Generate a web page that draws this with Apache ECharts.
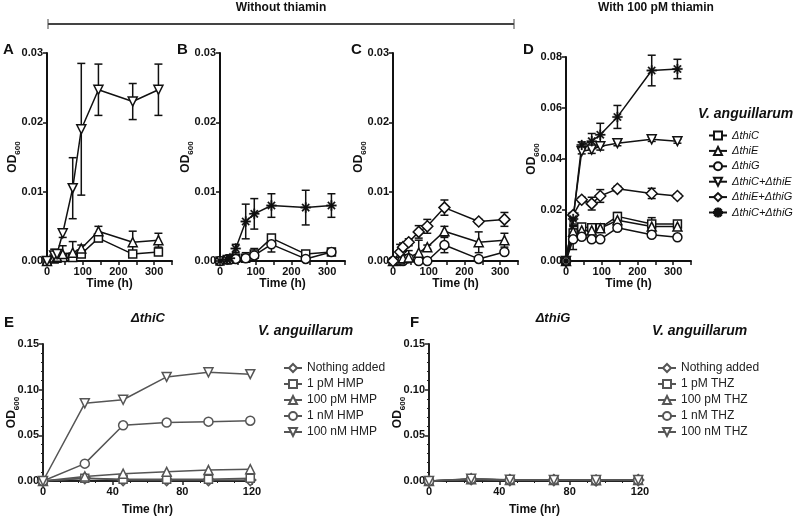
<!DOCTYPE html>
<html><head><meta charset="utf-8">
<script src="https://cdn.jsdelivr.net/npm/echarts@6/dist/echarts.min.js"></script>
<style>html,body{margin:0;padding:0;background:#fff}#c{width:800px;height:517px}</style>
</head><body><div id="c"></div>
<script>
// ---------- DATA ----------
const TOP_T = [0, 20, 28, 44, 72, 96, 144, 240, 312];
const D_T = [0, 20, 44, 72, 96, 144, 240, 312];
const BOT_T = [0, 24, 46, 71, 95, 119];

// Panel A
const A_thiC = [0, 0.0003, 0.0004, 0.0005, 0.0005, 0.0010, 0.0033, 0.0010, 0.0013];
const A_thiC_err = [0, 0.0003, 0.0003, 0.0004, 0.0006, 0.0004, 0.0005, 0.0003, 0.0003];
const A_thiE = [0, 0.0005, 0.0006, 0.0010, 0.0012, 0.0018, 0.0043, 0.0027, 0.0030];
const A_thiE_err = [0, 0.0012, 0.0008, 0.0012, 0.0016, 0.0005, 0.0007, 0.0016, 0.0010];
const A_CE = [0, 0.0008, 0.0010, 0.0040, 0.0105, 0.0190, 0.0247, 0.0230, 0.0247];
const A_CE_err = [0, 0.0005, 0.0005, 0.0006, 0.0044, 0.0095, 0.0037, 0.0026, 0.0037];
// Panel B
const B_thiC = [0, 0.0002, 0.0003, 0.0004, 0.0004, 0.0010, 0.0033, 0.0010, 0.0013];
const B_thiC_err = [0, 0, 0, 0, 0.0003, 0.0003, 0.0004, 0.0002, 0.0002];
const B_thiG = [0, 0.0002, 0.0002, 0.0003, 0.0004, 0.0008, 0.0024, 0.0003, 0.0013];
const B_thiG_err = [0, 0, 0, 0, 0.0008, 0.0010, 0.0011, 0.0002, 0.0002];
const B_CG = [0, 0.0002, 0.0004, 0.0018, 0.0057, 0.0068, 0.0080, 0.0077, 0.0080];
const B_CG_err = [0, 0.0002, 0.0003, 0.0006, 0.0025, 0.0022, 0.0017, 0.0025, 0.0017];
// Panel C
const C_thiE = [0, 0.0002, 0.0004, 0.0005, 0.0012, 0.0020, 0.0043, 0.0027, 0.0030];
const C_thiE_err = [0, 0.0003, 0.0005, 0.0010, 0.0018, 0.0003, 0.0007, 0.0015, 0.0010];
const C_thiG = [0, 0, 0, 0.0004, 0, 0, 0.0023, 0.0003, 0.0013];
const C_thiG_err = [0, 0, 0, 0, 0, 0, 0.0011, 0.0002, 0.0003];
const C_EG = [0, 0.0013, 0.0020, 0.0027, 0.0042, 0.0050, 0.0077, 0.0057, 0.0060];
const C_EG_err = [0, 0.0011, 0.0006, 0.0005, 0.0009, 0.0010, 0.0011, 0.0003, 0.0010];
// Panel D (with 100 pM thiamin)
const D_thiC = [0, 0.0110, 0.0133, 0.0130, 0.0130, 0.0175, 0.0145, 0.0145];
const D_thiC_err = [0, 0.0030, 0.0012, 0.0010, 0.0010, 0.0015, 0.0025, 0.0010];
const D_thiE = [0, 0.0115, 0.0120, 0.0120, 0.0128, 0.0160, 0.0135, 0.0135];
const D_thiE_err = [0, 0.0020, 0.0010, 0.0010, 0.0010, 0.0010, 0.0010, 0.0010];
const D_thiG = [0, 0.0085, 0.0095, 0.0085, 0.0085, 0.0130, 0.0103, 0.0093];
const D_thiG_err = [0, 0.0040, 0.0010, 0.0010, 0.0006, 0.0010, 0.0010, 0.0005];
const D_CE = [0, 0.0170, 0.0430, 0.0437, 0.0450, 0.0462, 0.0477, 0.0470];
const D_CE_err = [0, 0.0010, 0.0010, 0.0015, 0.0015, 0.0010, 0.0008, 0.0008];
const D_EG = [0, 0.0180, 0.0240, 0.0225, 0.0255, 0.0283, 0.0265, 0.0255];
const D_EG_err = [0, 0.0010, 0.0010, 0.0025, 0.0025, 0.0010, 0.0020, 0.0008];
const D_CG = [0, 0.0165, 0.0455, 0.0470, 0.0495, 0.0565, 0.0747, 0.0753];
const D_CG_err = [0, 0.0020, 0.0012, 0.0030, 0.0045, 0.0045, 0.0060, 0.0038];
// Panel E (ΔthiC + HMP)
const E_none = [0, 0.0030, 0.0010, 0.0010, 0.0010, 0.0010];
const E_1pM = [0, 0.0030, 0.0020, 0.0020, 0.0020, 0.0030];
const E_100pM = [0, 0.0050, 0.0080, 0.0100, 0.0120, 0.0130];
const E_1nM = [0, 0.0190, 0.0610, 0.0640, 0.0650, 0.0660];
const E_100nM = [0, 0.0850, 0.0890, 0.1140, 0.1190, 0.1170];
// Panel F (ΔthiG + THZ)
const F_none = [0, 0.0020, 0.0010, 0.0010, 0.0005, 0.0010];
const F_1pM = [0, 0.0020, 0.0010, 0.0010, 0.0010, 0.0010];
const F_100pM = [0, 0.0020, 0.0012, 0.0010, 0.0008, 0.0010];
const F_1nM = [0, 0.0022, 0.0012, 0.0012, 0.0008, 0.0010];
const F_100nM = [0, 0.0025, 0.0015, 0.0012, 0.0010, 0.0012];

const TOP_NAMES = ['ΔthiC', 'ΔthiE', 'ΔthiG', 'ΔthiC+ΔthiE', 'ΔthiE+ΔthiG', 'ΔthiC+ΔthiG'];
const E_NAMES = ['Nothing added', '1 pM HMP', '100 pM HMP', '1 nM HMP', '100 nM HMP'];
const F_NAMES = ['Nothing added', '1 pM THZ', '100 pM THZ', '1 nM THZ', '100 nM THZ'];

// ---------- STYLE ----------
const FONT = "'Liberation Sans', Arial, sans-serif";
const TOPC = '#111';
const BOTC = '#555';
const ASTER = 'path://M-10,-1.5 L10,-1.5 L10,1.5 L-10,1.5 Z M-1.5,-10 L1.5,-10 L1.5,10 L-1.5,10 Z M-8.1,-6 L-6,-8.1 L8.1,6 L6,8.1 Z M6,-8.1 L8.1,-6 L-6,8.1 L-8.1,6 Z';
const SYM = {
  sq: {symbol: 'rect', size: 8, rot: 0},
  up: {symbol: 'triangle', size: 9, rot: 0},
  ci: {symbol: 'circle', size: 9, rot: 0},
  dn: {symbol: 'triangle', size: 9, rot: 180},
  di: {symbol: 'diamond', size: [11, 11], rot: 0},
  as: {symbol: ASTER, size: 10, rot: 0, fill: true}
};

const series = [];
function addLine(name, gi, xs, ys, errs, sk, color, bw) {
  const s = SYM[sk];
  series.push({
    type: 'line', name: name, xAxisIndex: gi, yAxisIndex: gi,
    data: xs.map((t, i) => [t, ys[i]]),
    symbol: s.symbol, symbolSize: s.size, symbolRotate: s.rot, showAllSymbol: true,
    lineStyle: {color: color, width: 1.5},
    itemStyle: {color: s.fill ? color : '#fff', borderColor: color, borderWidth: s.fill ? 0.3 : bw},
    z: 3, animation: false
  });
  if (errs) {
    const ed = [];
    xs.forEach((t, i) => { if (errs[i] > 0) ed.push([t, Math.max(0, ys[i] - errs[i]), ys[i] + errs[i]]); });
    series.push({
      type: 'custom', xAxisIndex: gi, yAxisIndex: gi, z: 2, animation: false, silent: true,
      encode: {x: 0, y: [1, 2]}, data: ed,
      renderItem: function (params, api) {
        const x = api.value(0), lo = api.value(1), hi = api.value(2);
        const a = api.coord([x, hi]), b = api.coord([x, lo]);
        const st = {stroke: color, lineWidth: 1.5};
        const w = 4;
        return {type: 'group', children: [
          {type: 'line', shape: {x1: a[0], y1: a[1], x2: b[0], y2: b[1]}, style: st},
          {type: 'line', shape: {x1: a[0] - w, y1: a[1], x2: a[0] + w, y2: a[1]}, style: st},
          {type: 'line', shape: {x1: b[0] - w, y1: b[1], x2: b[0] + w, y2: b[1]}, style: st}
        ]};
      }
    });
  }
}
// A
addLine('ΔthiC', 0, TOP_T, A_thiC, A_thiC_err, 'sq', TOPC, 1.5);
addLine('ΔthiE', 0, TOP_T, A_thiE, A_thiE_err, 'up', TOPC, 1.5);
addLine('ΔthiC+ΔthiE', 0, TOP_T, A_CE, A_CE_err, 'dn', TOPC, 1.5);
// B
addLine('ΔthiC', 1, TOP_T, B_thiC, B_thiC_err, 'sq', TOPC, 1.5);
addLine('ΔthiG', 1, TOP_T, B_thiG, B_thiG_err, 'ci', TOPC, 1.5);
addLine('ΔthiC+ΔthiG', 1, TOP_T, B_CG, B_CG_err, 'as', TOPC, 1.5);
// C
addLine('ΔthiG', 2, TOP_T, C_thiG, C_thiG_err, 'ci', TOPC, 1.5);
addLine('ΔthiE', 2, TOP_T, C_thiE, C_thiE_err, 'up', TOPC, 1.5);
addLine('ΔthiE+ΔthiG', 2, TOP_T, C_EG, C_EG_err, 'di', TOPC, 1.5);
// D
addLine('ΔthiC', 3, D_T, D_thiC, D_thiC_err, 'sq', TOPC, 1.5);
addLine('ΔthiE', 3, D_T, D_thiE, D_thiE_err, 'up', TOPC, 1.5);
addLine('ΔthiG', 3, D_T, D_thiG, D_thiG_err, 'ci', TOPC, 1.5);
addLine('ΔthiC+ΔthiE', 3, D_T, D_CE, D_CE_err, 'dn', TOPC, 1.5);
addLine('ΔthiE+ΔthiG', 3, D_T, D_EG, D_EG_err, 'di', TOPC, 1.5);
addLine('ΔthiC+ΔthiG', 3, D_T, D_CG, D_CG_err, 'as', TOPC, 1.5);
// E
addLine(E_NAMES[0], 4, BOT_T, E_none, null, 'di', BOTC, 1.5);
addLine(E_NAMES[1], 4, BOT_T, E_1pM, null, 'sq', BOTC, 1.5);
addLine(E_NAMES[2], 4, BOT_T, E_100pM, null, 'up', BOTC, 1.5);
addLine(E_NAMES[3], 4, BOT_T, E_1nM, null, 'ci', BOTC, 1.5);
addLine(E_NAMES[4], 4, BOT_T, E_100nM, null, 'dn', BOTC, 1.5);
// F
addLine(F_NAMES[0], 5, BOT_T, F_none, null, 'di', BOTC, 1.5);
addLine(F_NAMES[1], 5, BOT_T, F_1pM, null, 'sq', BOTC, 1.5);
addLine(F_NAMES[2], 5, BOT_T, F_100pM, null, 'up', BOTC, 1.5);
addLine(F_NAMES[3], 5, BOT_T, F_1nM, null, 'ci', BOTC, 1.5);
addLine(F_NAMES[4], 5, BOT_T, F_100nM, null, 'dn', BOTC, 1.5);

// ---------- AXES ----------
const grids = [
  {left: 47, top: 53, width: 125, height: 208},
  {left: 220, top: 53, width: 125, height: 208},
  {left: 393, top: 53, width: 125, height: 208},
  {left: 566, top: 57, width: 125, height: 204},
  {left: 43, top: 344, width: 209, height: 138},
  {left: 429, top: 344, width: 211, height: 138}
];
const lbl = {fontFamily: FONT, fontWeight: 'bold', fontSize: 11, color: '#111'};
const odName = {
  name: '{a|OD}{b|600}', nameLocation: 'middle', nameMoveOverlap: false,
  nameTextStyle: {rich: {
    a: {fontFamily: FONT, fontWeight: 'bold', fontSize: 12, color: '#111', lineHeight: 14, verticalAlign: 'bottom'},
    b: {fontFamily: FONT, fontWeight: 'bold', fontSize: 8, color: '#111', lineHeight: 14, verticalAlign: 'bottom', padding: [0, 0, -3, 0]}
  }}
};
const xAxes = [], yAxes = [];
for (let i = 0; i < 6; i++) {
  const top = i < 4;
  const col = top ? '#111' : '#222';
  xAxes.push({
    gridIndex: i, type: 'value', min: 0, max: top ? 350 : 120, interval: top ? 50 : 40,
    name: top ? 'Time (h)' : 'Time (hr)', nameLocation: 'middle', nameGap: top ? 15 : 23,
    nameTextStyle: {fontFamily: FONT, fontWeight: 'bold', fontSize: 12, color: '#111'},
    axisLine: {lineStyle: {color: col, width: 2}},
    axisTick: {lineStyle: {color: col, width: 1.5}, length: 4},
    minorTick: top ? {show: false} : {show: true, splitNumber: 4, length: 2, lineStyle: {color: col}},
    splitLine: {show: false},
    axisLabel: Object.assign({}, lbl, {interval: 0, margin: 5, formatter: v => (top && v % 100 !== 0) ? '' : String(v)})
  });
  const ymax = i < 3 ? 0.03 : (i === 3 ? 0.08 : 0.15);
  const yint = i < 3 ? 0.01 : (i === 3 ? 0.02 : 0.05);
  yAxes.push(Object.assign({
    gridIndex: i, type: 'value', min: 0, max: ymax, interval: yint,
    nameGap: top ? 28 : 25,
    axisLine: {show: true, lineStyle: {color: col, width: 2}},
    axisTick: {show: true, lineStyle: {color: col, width: 1.5}, length: 4},
    minorTick: top ? {show: false} : {show: true, splitNumber: 5, length: 2, lineStyle: {color: col}},
    splitLine: {show: false},
    axisLabel: Object.assign({}, lbl, {margin: 4, formatter: v => v.toFixed(2)})
  }, odName));
}

// ---------- TEXT ----------
const T = (x, y, text, size, extra) => ({
  type: 'text', x: x, y: y,
  style: Object.assign({text: text, fontFamily: FONT, fontWeight: 'bold', fontSize: size, fill: '#111',
    textAlign: 'left', textVerticalAlign: 'middle'}, extra || {})
});
const graphics = [
  T(281, 8, 'Without thiamin', 12, {textAlign: 'center'}),
  T(656, 8, 'With 100 pM thiamin', 12, {textAlign: 'center'}),
  {type: 'line', shape: {x1: 48, y1: 24, x2: 514, y2: 24}, style: {stroke: '#444', lineWidth: 2}},
  {type: 'line', shape: {x1: 48, y1: 19, x2: 48, y2: 29}, style: {stroke: '#444', lineWidth: 1}},
  {type: 'line', shape: {x1: 514, y1: 19, x2: 514, y2: 29}, style: {stroke: '#444', lineWidth: 1}},
  T(3, 50, 'A', 15), T(177, 50, 'B', 15), T(351, 50, 'C', 15), T(523, 50, 'D', 15),
  T(4, 323, 'E', 15), T(410, 323, 'F', 15),
  T(148, 318, 'ΔthiC', 13, {textAlign: 'center', fontStyle: 'italic'}),
  T(553, 318, 'ΔthiG', 13, {textAlign: 'center', fontStyle: 'italic'}),
  T(698, 114, 'V. anguillarum', 14, {fontStyle: 'italic'}),
  T(258, 331, 'V. anguillarum', 14, {fontStyle: 'italic'}),
  T(652, 331, 'V. anguillarum', 14, {fontStyle: 'italic'})
];

const legendBase = {orient: 'vertical', itemWidth: 18, itemHeight: 10, selectedMode: false, inactiveColor: '#111'};
const option = {
  animation: false,
  backgroundColor: '#fff',
  grid: grids,
  xAxis: xAxes,
  yAxis: yAxes,
  legend: [
    Object.assign({}, legendBase, {left: 703, top: 124, itemGap: 2.4, data: TOP_NAMES,
      textStyle: {fontFamily: FONT, fontStyle: 'italic', fontSize: 11, color: '#111', lineHeight: 13}}),
    Object.assign({}, legendBase, {left: 278, top: 356, itemGap: 2, data: E_NAMES,
      textStyle: {fontFamily: FONT, fontSize: 12, color: '#222', lineHeight: 14}}),
    Object.assign({}, legendBase, {left: 652, top: 356, itemGap: 2, data: F_NAMES,
      textStyle: {fontFamily: FONT, fontSize: 12, color: '#222', lineHeight: 14}})
  ],
  graphic: graphics,
  series: series
};
const chart = echarts.init(document.getElementById('c'), null, {renderer: 'canvas'});
chart.setOption(option);
</script>
</body></html>
